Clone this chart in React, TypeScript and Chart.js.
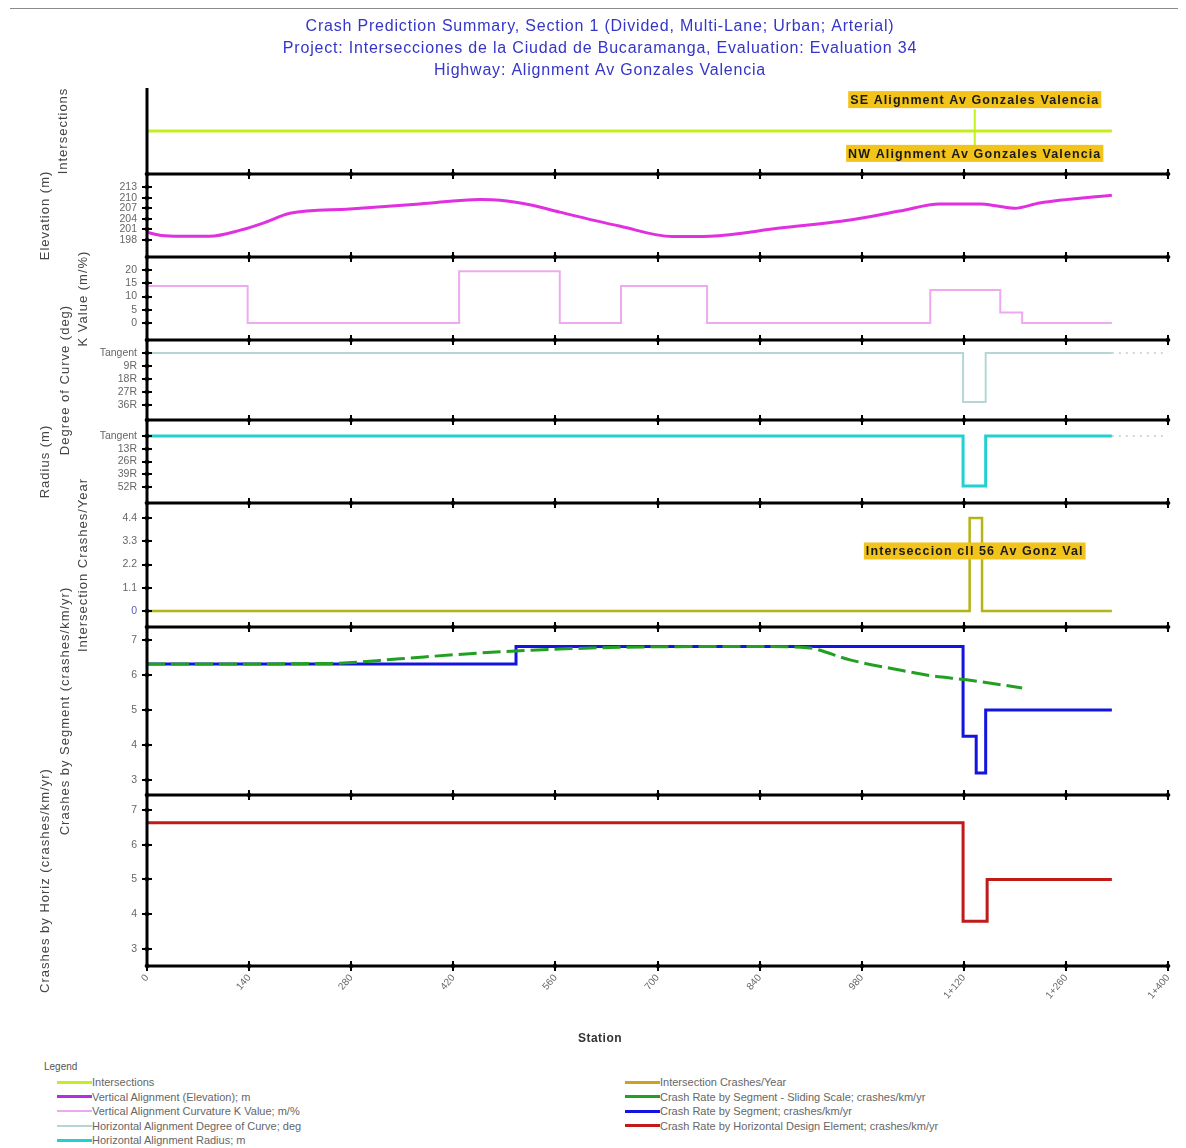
import React, { useEffect, useRef } from "react";
import { Chart, registerables } from "chart.js";

Chart.register(...registerables);

// ---------------- Data ----------------
const titleLines = [
  "Crash Prediction Summary, Section 1 (Divided, Multi-Lane; Urban; Arterial)",
  "Project: Intersecciones de la Ciudad de Bucaramanga, Evaluation: Evaluation 34",
  "Highway: Alignment Av Gonzales Valencia",
];
const xAxisTitle = "Station";

const stationTicks = [0, 140, 280, 420, 560, 700, 840, 980, 1120, 1260, 1400];
const stationMin = 0;
const stationMax = 1400;
const dataEndStation = 1323;

const intersectionLineStations = [0, 1323];
const intersectionLineValues = [0, 0];
const intersectionStation = 1135;
const intersectionMarkerValues = [0.5, -0.5];
const intersectionNames = ["SE Alignment Av Gonzales Valencia", "NW Alignment Av Gonzales Valencia"];
const intersectionCrashName = "Interseccion cll 56 Av Gonz Val";

const elevationStations = [0, 20, 45, 86, 128, 162, 196, 278, 374, 457, 484, 525, 566, 649, 720, 772, 868, 964, 1032, 1087, 1142, 1170, 1190, 1224, 1323];
const elevationValues = [200.2, 199.3, 199.1, 199.1, 200.8, 203, 205.6, 206.8, 208.2, 209.5, 209.3, 208, 205.9, 201.9, 199, 199.1, 201.4, 203.7, 206.2, 208.2, 208.2, 207.5, 207, 208.5, 210.7];
const elevationTicks = [198, 201, 204, 207, 210, 213];

const kStarts = [0, 138, 428, 566, 650, 768, 1074, 1170, 1200];
const kValues = [14, 0, 19.5, 0, 14, 0, 12.5, 4, 0];
const kTicks = [0, 5, 10, 15, 20];

const degreeStarts = [0, 1119, 1150];
const degreeValues = [0, 34, 0];
const degreeTicks = [0, 9, 18, 27, 36];

const radiusStarts = [0, 1119, 1150];
const radiusValues = [0, 51, 0];
const radiusTicks = [0, 13, 26, 39, 52];

const tangentExtStations = [1323, 1400];
const tangentExtValues = [0, 0];

const intCrashStarts = [0, 1128, 1145];
const intCrashValues = [0, 4.4, 0];
const intCrashTicks = [0, 1.1, 2.2, 3.3, 4.4];

const slidingStations = [0, 251, 347, 415, 484, 566, 649, 758, 850, 905, 964, 1032, 1078, 1124, 1200];
const slidingValues = [6.31, 6.33, 6.46, 6.57, 6.66, 6.74, 6.79, 6.81, 6.81, 6.78, 6.43, 6.14, 5.97, 5.86, 5.63];

const segmentStarts = [0, 506, 1119, 1137, 1150];
const segmentValues = [6.31, 6.81, 4.25, 3.2, 5.0];
const segmentTicks = [3, 4, 5, 6, 7];

const horizStarts = [0, 1119, 1152];
const horizValues = [6.63, 3.8, 5.0];
const horizTicks = [3, 4, 5, 6, 7];

const panelTitles = [
  "Intersections",
  "Elevation (m)",
  "K Value (m/%)",
  "Degree of Curve (deg)",
  "Radius (m)",
  "Intersection Crashes/Year",
  "Crashes by Segment (crashes/km/yr)",
  "Crashes by Horiz (crashes/km/yr)",
];

const legendLeftLabels = [
  "Intersections",
  "Vertical Alignment (Elevation); m",
  "Vertical Alignment Curvature K Value; m/%",
  "Horizontal Alignment Degree of Curve; deg",
  "Horizontal Alignment Radius; m",
];
const legendRightLabels = [
  "Intersection Crashes/Year",
  "Crash Rate by Segment - Sliding Scale; crashes/km/yr",
  "Crash Rate by Segment; crashes/km/yr",
  "Crash Rate by Horizontal Design Element; crashes/km/yr",
];

// ---------------- Styles ----------------
const C = {
  lime: "#c4ee1e",
  magenta: "#e030e0",
  pink: "#eeaaee",
  grayTeal: "#b4d6d6",
  cyan: "#22d0d0",
  olive: "#b4b414",
  green: "#22a022",
  blue: "#1414e0",
  red: "#c01a1a",
};
const legendLeftColors = [C.lime, "#b030e0", C.pink, C.grayTeal, C.cyan];
const legendLeftWidths = [3, 3, 1.5, 1.5, 3];
const legendRightColors = ["#d0a020", C.green, C.blue, C.red];

const FONT = "Arial, 'Liberation Sans', sans-serif";
const CANVAS_W = 1170;
const CANVAS_H = 1045;
const CENTER_X = 592;
const Y_AXIS_W = 139;
const X_AXIS_H = 87;
const panelTitleX = [55, 37, 75, 57, 37, 75, 57, 37];

function stepPoints(starts: number[], values: number[], end: number) {
  const pts: { x: number; y: number }[] = [];
  for (let i = 0; i < starts.length; i++) {
    const e = i + 1 < starts.length ? starts[i + 1] : end;
    pts.push({ x: starts[i], y: values[i] });
    pts.push({ x: e, y: values[i] });
  }
  return pts;
}
function linePoints(xs: number[], ys: number[]) {
  return xs.map((x, i) => ({ x, y: ys[i] }));
}
function fmtStation(v: number) {
  if (v < 1000) return String(v);
  const km = Math.floor(v / 1000);
  return `${km}+${String(v - km * 1000).padStart(3, "0")}`;
}

const yIds = ["yInt", "yElev", "yK", "yDeg", "yRad", "yIC", "ySeg", "yHor"];

function yScale(
  idx: number,
  stackWeight: number,
  min: number,
  max: number,
  tickVals: number[],
  extra: any = {}
) {
  return {
    type: "linear",
    position: "left",
    stack: "panels",
    stackWeight,
    weight: 20 - idx,
    min,
    max,
    offset: false,
    reverse: !!extra.reverse,
    grid: { display: false, drawTicks: false },
    border: { display: false },
    afterBuildTicks: (s: any) => {
      s.ticks = tickVals.map((v) => ({ value: v }));
    },
    afterFit: (s: any) => {
      s.width = Y_AXIS_W;
    },
    ticks: {
      display: tickVals.length > 0,
      autoSkip: false,
      padding: 10,
      font: { size: 10.5, family: FONT },
      color: extra.color || "#666",
      callback: extra.callback || ((v: any) => String(v)),
    },
  };
}

const panelPlugin = {
  id: "panelDecor",
  afterDraw(chart: any) {
    const ctx = chart.ctx as CanvasRenderingContext2D;
    const area = chart.chartArea;
    const xs = chart.scales.x;
    ctx.save();
    // top rule
    ctx.strokeStyle = "#8a8a8a";
    ctx.lineWidth = 1;
    ctx.beginPath();
    ctx.moveTo(2, 0.5);
    ctx.lineTo(CANVAS_W, 0.5);
    ctx.stroke();

    // main title
    ctx.fillStyle = "#3535c8";
    ctx.font = `16px ${FONT}`;
    (ctx as any).letterSpacing = "0.8px";
    ctx.textAlign = "center";
    ctx.textBaseline = "middle";
    titleLines.forEach((t, i) => ctx.fillText(t, CENTER_X, 19 + i * 22));
    (ctx as any).letterSpacing = "0px";

    // x axis title
    ctx.fillStyle = "#333";
    ctx.font = `bold 12px ${FONT}`;
    (ctx as any).letterSpacing = "0.5px";
    ctx.fillText(xAxisTitle, CENTER_X, 1031);
    (ctx as any).letterSpacing = "0px";

    const right = xs.getPixelForValue(stationMax);
    ctx.strokeStyle = "#000";
    ctx.fillStyle = "#000";
    // separators with station ticks
    yIds.forEach((id) => {
      const sc = chart.scales[id];
      const yb = Math.round(sc.bottom);
      ctx.lineWidth = 3;
      ctx.beginPath();
      ctx.moveTo(area.left, yb);
      ctx.lineTo(right + 1, yb);
      ctx.stroke();
      ctx.lineWidth = 2;
      stationTicks.forEach((t) => {
        const px = Math.round(xs.getPixelForValue(t));
        ctx.beginPath();
        ctx.moveTo(px, yb - 5);
        ctx.lineTo(px, yb + 5);
        ctx.stroke();
        ctx.beginPath();
        ctx.moveTo(px, yb - 4);
        ctx.lineTo(px + 2.5, yb);
        ctx.lineTo(px, yb + 4);
        ctx.lineTo(px - 2.5, yb);
        ctx.closePath();
        ctx.fill();
      });
    });
    // left axis
    ctx.lineWidth = 3;
    ctx.beginPath();
    ctx.moveTo(area.left, area.top);
    ctx.lineTo(area.left, area.bottom);
    ctx.stroke();
    // y ticks
    ctx.lineWidth = 2;
    yIds.forEach((id) => {
      const sc = chart.scales[id];
      if (!sc.options.ticks.display) return;
      (sc.ticks || []).forEach((t: any) => {
        const py = Math.round(sc.getPixelForValue(t.value));
        ctx.beginPath();
        ctx.moveTo(area.left - 5, py);
        ctx.lineTo(area.left + 5, py);
        ctx.stroke();
        ctx.beginPath();
        ctx.moveTo(area.left - 4, py);
        ctx.lineTo(area.left, py - 2.5);
        ctx.lineTo(area.left + 4, py);
        ctx.lineTo(area.left, py + 2.5);
        ctx.closePath();
        ctx.fill();
      });
    });

    // panel titles
    ctx.fillStyle = "#444";
    ctx.font = `13px ${FONT}`;
    (ctx as any).letterSpacing = "1px";
    ctx.textAlign = "center";
    ctx.textBaseline = "middle";
    yIds.forEach((id, i) => {
      const sc = chart.scales[id];
      ctx.save();
      ctx.translate(panelTitleX[i], (sc.top + sc.bottom) / 2);
      ctx.rotate(-Math.PI / 2);
      ctx.fillText(panelTitles[i], 0, 0);
      ctx.restore();
    });
    (ctx as any).letterSpacing = "0px";

    // annotation boxes
    const box = (text: string, cx: number, cy: number) => {
      ctx.font = `bold 12.5px ${FONT}`;
      (ctx as any).letterSpacing = "1.1px";
      const w = ctx.measureText(text).width + 4;
      const h = 17;
      ctx.fillStyle = "#f2c31a";
      ctx.fillRect(cx - w / 2, cy - h / 2, w, h);
      ctx.fillStyle = "#1a1a1a";
      ctx.textAlign = "center";
      ctx.textBaseline = "middle";
      ctx.fillText(text, cx, cy + 1);
      (ctx as any).letterSpacing = "0px";
    };
    const ix = xs.getPixelForValue(intersectionStation);
    const yInt = chart.scales.yInt;
    box(intersectionNames[0], ix, yInt.getPixelForValue(0.73));
    box(intersectionNames[1], ix, yInt.getPixelForValue(-0.52));
    const yIC = chart.scales.yIC;
    box(intersectionCrashName, ix, yIC.getPixelForValue(2.84));
    ctx.restore();
  },
};

function App() {
  const canvasRef = useRef<HTMLCanvasElement | null>(null);

  useEffect(() => {
    document.documentElement.style.overflow = "hidden";
    const canvas = canvasRef.current;
    if (!canvas) return;
    Chart.defaults.font.family = FONT;

    const base = { pointRadius: 0, pointHoverRadius: 0, fill: false, tension: 0 };
    const chart = new Chart(canvas, {
      type: "line",
      data: {
        datasets: [
          { ...base, label: "Intersections", yAxisID: "yInt", data: linePoints(intersectionLineStations, intersectionLineValues), borderColor: C.lime, borderWidth: 3 },
          { ...base, label: "Intersection marker", yAxisID: "yInt", data: linePoints([intersectionStation, intersectionStation], intersectionMarkerValues), borderColor: C.lime, borderWidth: 2 },
          { ...base, label: "Elevation", yAxisID: "yElev", data: linePoints(elevationStations, elevationValues), borderColor: C.magenta, borderWidth: 3, cubicInterpolationMode: "monotone" },
          { ...base, label: "K Value", yAxisID: "yK", data: stepPoints(kStarts, kValues, dataEndStation), borderColor: C.pink, borderWidth: 2 },
          { ...base, label: "Degree", yAxisID: "yDeg", data: stepPoints(degreeStarts, degreeValues, dataEndStation), borderColor: C.grayTeal, borderWidth: 2 },
          { ...base, label: "Degree ext", yAxisID: "yDeg", data: linePoints(tangentExtStations, tangentExtValues), borderColor: "#c8c8c8", borderWidth: 1.5, borderDash: [2, 5] },
          { ...base, label: "Radius", yAxisID: "yRad", data: stepPoints(radiusStarts, radiusValues, dataEndStation), borderColor: C.cyan, borderWidth: 3 },
          { ...base, label: "Radius ext", yAxisID: "yRad", data: linePoints(tangentExtStations, tangentExtValues), borderColor: "#c8c8c8", borderWidth: 1.5, borderDash: [2, 5] },
          { ...base, label: "Intersection Crashes", yAxisID: "yIC", data: stepPoints(intCrashStarts, intCrashValues, dataEndStation), borderColor: C.olive, borderWidth: 2.5 },
          { ...base, label: "Sliding", yAxisID: "ySeg", data: linePoints(slidingStations, slidingValues), borderColor: C.green, borderWidth: 3, borderDash: [18, 6], cubicInterpolationMode: "monotone" },
          { ...base, label: "Segment", yAxisID: "ySeg", data: stepPoints(segmentStarts, segmentValues, dataEndStation), borderColor: C.blue, borderWidth: 3 },
          { ...base, label: "Horiz", yAxisID: "yHor", data: stepPoints(horizStarts, horizValues, dataEndStation), borderColor: C.red, borderWidth: 3 },
        ] as any,
      },
      options: {
        responsive: false,
        animation: false,
        events: [],
        layout: { padding: { left: 0, right: 10, top: 80, bottom: 0 } },
        plugins: {
          legend: { display: false },
          tooltip: { enabled: false },
          title: { display: false },
        },
        scales: {
          x: {
            type: "linear",
            position: "bottom",
            min: stationMin,
            max: stationMax,
            grid: { display: false, drawTicks: false },
            border: { display: false },
            afterBuildTicks: (s: any) => {
              s.ticks = stationTicks.map((v) => ({ value: v }));
            },
            afterFit: (s: any) => {
              s.height = X_AXIS_H;
              s.paddingRight = 0;
              s.paddingLeft = 0;
            },
            ticks: {
              autoSkip: false,
              maxRotation: 50,
              minRotation: 50,
              padding: 6,
              font: { size: 10, family: FONT },
              color: "#666",
              callback: (v: any) => fmtStation(Number(v)),
            },
            title: { display: false },
          },
          yInt: yScale(0, 86, -1, 1, []),
          yElev: yScale(1, 83, 193.2, 216.7, elevationTicks),
          yK: yScale(2, 83, -6.4, 24.9, kTicks),
          yDeg: yScale(3, 80, -9, 46.4, degreeTicks, { reverse: true, callback: (v: any) => (Number(v) === 0 ? "Tangent" : `${v}R`) }),
          yRad: yScale(4, 83, -16.3, 68.3, radiusTicks, { reverse: true, callback: (v: any) => (Number(v) === 0 ? "Tangent" : `${v}R`) }),
          yIC: yScale(5, 124, -0.757, 5.11, intCrashTicks, { color: (c: any) => (c.tick && c.tick.value === 0 ? "#5a5ac0" : "#666") }),
          ySeg: yScale(6, 168, 2.57, 7.37, segmentTicks),
          yHor: yScale(7, 171, 2.51, 7.43, horizTicks),
        } as any,
      },
      plugins: [panelPlugin],
    });
    return () => chart.destroy();
  }, []);

  const rowTop = (i: number) => 1074 + i * 14.6 - 7;
  const rowStyle = (left: number, i: number): React.CSSProperties => ({
    position: "absolute",
    left,
    top: rowTop(i),
    height: 14,
    display: "flex",
    alignItems: "center",
    fontSize: 11,
    color: "#666",
    whiteSpace: "nowrap",
  });
  return (
    <div style={{ position: "relative", width: CANVAS_W, height: 1140, overflow: "hidden", fontFamily: FONT }}>
      <canvas ref={canvasRef} width={CANVAS_W} height={CANVAS_H} style={{ display: "block" }} />
      <div style={{ position: "absolute", left: 36, top: 1053, fontSize: 10, color: "#555" }}>Legend</div>
      {legendLeftLabels.map((lab, i) => (
        <div key={"l" + i} style={rowStyle(49, i)}>
          <span style={{ display: "inline-block", width: 35, height: legendLeftWidths[i], background: legendLeftColors[i] }} />
          <span>{lab}</span>
        </div>
      ))}
      {legendRightLabels.map((lab, i) => (
        <div key={"r" + i} style={rowStyle(617, i)}>
          <span style={{ display: "inline-block", width: 35, height: 3, background: legendRightColors[i] }} />
          <span>{lab}</span>
        </div>
      ))}
    </div>
  );
}

export default App;
